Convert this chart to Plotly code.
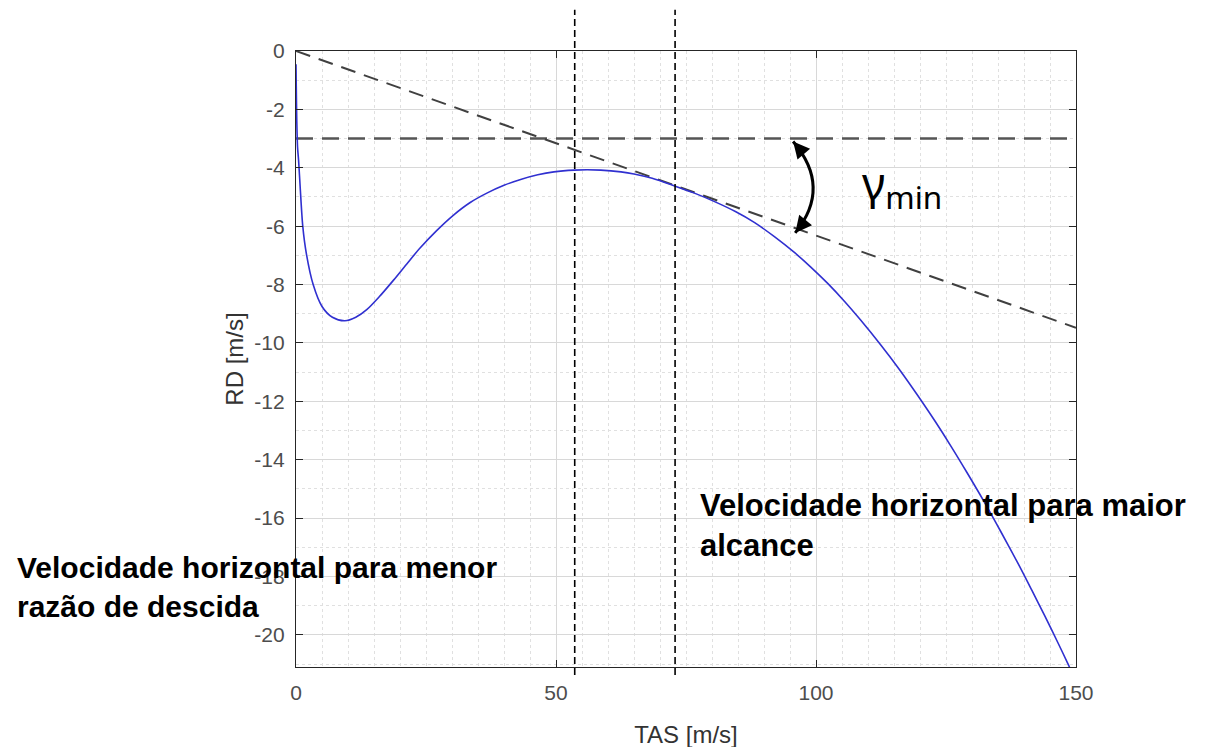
import plotly.graph_objects as go

# ---- data ----
tas = [0.0, 0.05, 0.15, 0.3, 0.5, 0.8, 1.3, 2.0, 3.3, 5.0, 7.0, 9.4, 11.5, 13.6,
       16.0, 18.8, 21.5, 23.9, 27.0, 30.3, 33.5, 36.8, 40.0, 43.2, 46.5, 49.6,
       53.5, 56.0, 58.6, 62.5, 65.0, 68.5, 72.8, 76.5, 80.5, 84.5, 88.2, 92.0,
       95.9, 99.0, 102.3, 105.5, 108.5, 112.5, 116.0, 119.6, 123.0, 126.0,
       129.0, 132.4, 135.5, 138.9, 141.5, 144.0, 146.5, 148.5, 150.0]
rd = [-0.45, -1.2, -2.4, -3.3, -3.75, -4.65, -6.0, -6.95, -8.0, -8.75, -9.12,
      -9.24, -9.12, -8.86, -8.42, -7.84, -7.25, -6.74, -6.16, -5.62, -5.19,
      -4.86, -4.6, -4.4, -4.24, -4.14, -4.08, -4.07, -4.08, -4.14, -4.21,
      -4.36, -4.62, -4.86, -5.16, -5.5, -5.88, -6.36, -6.91, -7.40, -7.97,
      -8.58, -9.2, -10.08, -10.9, -11.81, -12.71, -13.55, -14.43, -15.46,
      -16.45, -17.57, -18.47, -19.35, -20.26, -21.01, -21.59]

tangent_x = [0, 150]
tangent_y = [0, -9.48]
level_x = [0, 150]
level_y = [-3, -3]
vline_tas = [53.6, 72.9]

x_ticks = [0, 50, 100, 150]
y_ticks = [0, -2, -4, -6, -8, -10, -12, -14, -16, -18, -20]

label_left = "<b>Velocidade horizontal para menor<br>razão de descida</b>"
label_right = "<b>Velocidade horizontal para maior<br>alcance</b>"
gamma_label = "γ<sub>min</sub>"

# arc arrow (gamma_min) end points and control point, in data units
arc_top = (95.6, -3.1)
arc_ctrl = (103.1, -4.67)
arc_bot = (96.0, -6.23)

fig = go.Figure()

fig.add_trace(go.Scatter(x=level_x, y=level_y, mode="lines",
                         line=dict(color="#555555", width=2.5, dash="17px,9px"),
                         hoverinfo="skip", showlegend=False))
fig.add_trace(go.Scatter(x=tangent_x, y=tangent_y, mode="lines",
                         line=dict(color="#404040", width=2, dash="15px,9px"),
                         hoverinfo="skip", showlegend=False))
fig.add_trace(go.Scatter(x=tas, y=rd, mode="lines",
                         line=dict(color="#3030d0", width=1.6, shape="spline", smoothing=0.8),
                         showlegend=False))

for v in vline_tas:
    fig.add_shape(type="line", xref="x", yref="paper", x0=v, x1=v,
                  y0=-0.013, y1=1.067,
                  line=dict(color="black", width=1.6, dash="7px,4px"), layer="above")

# curved double arrow
fig.add_shape(type="path", xref="x", yref="y",
              path=f"M {arc_top[0]},{arc_top[1]} Q {arc_ctrl[0]},{arc_ctrl[1]} {arc_bot[0]},{arc_bot[1]}",
              line=dict(color="black", width=3), layer="above")
for tip in (arc_top, arc_bot):
    dx = arc_ctrl[0] - tip[0]
    dy = arc_ctrl[1] - tip[1]
    fig.add_annotation(x=tip[0], y=tip[1], ax=tip[0] + 0.15 * dx, ay=tip[1] + 0.15 * dy,
                       xref="x", yref="y", axref="x", ayref="y", text="",
                       showarrow=True, arrowhead=2, arrowsize=1.1, arrowwidth=3,
                       arrowcolor="black", standoff=0)

fig.add_annotation(x=0.7231, y=0.782, xref="paper", yref="paper", text=gamma_label,
                   showarrow=False, xanchor="left", yanchor="middle",
                   font=dict(family="Noto Sans", size=45, color="black"))
fig.add_annotation(x=-0.3603, y=0.13, xref="paper", yref="paper", text=label_left,
                   showarrow=False, xanchor="left", yanchor="middle", align="left",
                   font=dict(family="Liberation Sans", size=30, color="black"))
fig.add_annotation(x=0.5154, y=0.229, xref="paper", yref="paper", text=label_right,
                   showarrow=False, xanchor="left", yanchor="middle", align="left",
                   font=dict(family="Liberation Sans", size=31, color="black"))

axis_common = dict(
    showline=True, linecolor="#262626", linewidth=1.3, mirror="ticks",
    ticks="inside", ticklen=7, tickcolor="#262626", tickwidth=1.2,
    showgrid=True, gridcolor="#d8d8d8", gridwidth=1, zeroline=False,
    tickfont=dict(family="Liberation Sans", size=21, color="#4d4d4d"),
)

fig.update_xaxes(range=[0, 150], tickvals=x_ticks, ticktext=[str(v) for v in x_ticks],
                 minor=dict(dtick=5, tick0=0, showgrid=True, gridcolor="#e0e0e0",
                            griddash="dot", gridwidth=1, ticks=""),
                 title=dict(text="TAS [m/s]", standoff=22,
                            font=dict(family="Liberation Sans", size=24, color="#333333")),
                 ticklabelstandoff=7, **axis_common)
fig.update_yaxes(range=[-21.1, 0], tickvals=y_ticks, ticktext=[str(v) for v in y_ticks],
                 minor=dict(dtick=1, tick0=0, showgrid=True, gridcolor="#e0e0e0",
                            griddash="dot", gridwidth=1, ticks=""),
                 title=dict(text="RD [m/s]", standoff=3,
                            font=dict(family="Liberation Sans", size=24, color="#333333")),
                 ticklabelstandoff=6, **axis_common)

fig.update_layout(width=1207, height=747, margin=dict(l=288, r=139, t=43, b=88, autoexpand=False),
                  paper_bgcolor="white", plot_bgcolor="white", showlegend=False)

fig.write_html("out.html")
